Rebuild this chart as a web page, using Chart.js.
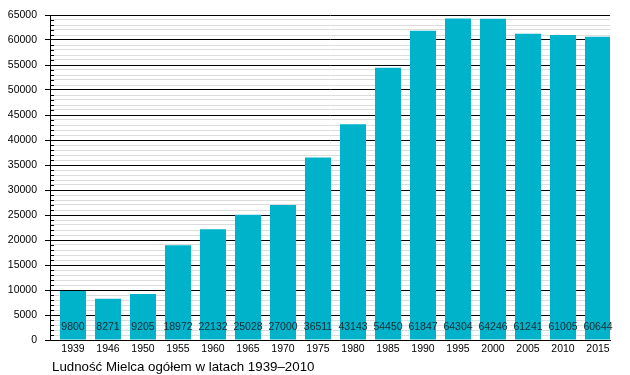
<!DOCTYPE html>
<html><head><meta charset="utf-8">
<script src="https://cdn.jsdelivr.net/npm/chart.js@4"></script>
<style>html,body{margin:0;padding:0;background:#fff}#wrap{width:630px;height:375px}</style>
</head><body><div id="wrap"><canvas id="c" width="630" height="375"></canvas></div>
<script>
const years = ['1939','1946','1950','1955','1960','1965','1970','1975','1980','1985','1990','1995','2000','2005','2010','2015'];
const population = [9800,8271,9205,18972,22132,25028,27000,36511,43143,54450,61847,64304,64246,61241,61005,60644];
const chartTitle = 'Ludność Mielca ogółem w latach 1939–2010';
const yMax = 65000, majorStep = 5000, minorStep = 1000;
const FONT = "'Liberation Sans', Arial, sans-serif";

const extras = {
  id: 'extras',
  afterDraw(chart) {
    const ctx = chart.ctx, y = chart.scales.y, a = chart.chartArea;
    ctx.save();
    ctx.strokeStyle = '#000'; ctx.lineWidth = 1;
    for (let v = 0; v <= yMax; v += minorStep) {
      if (v % majorStep === 0) continue;
      const py = Math.round(y.getPixelForValue(v)) + 0.5;
      ctx.beginPath(); ctx.moveTo(a.left, py); ctx.lineTo(a.left + 4, py); ctx.stroke();
    }
    ctx.fillStyle = '#1a2a33';
    ctx.font = '10.5px ' + FONT;
    ctx.textAlign = 'center'; ctx.textBaseline = 'middle';
    chart.getDatasetMeta(0).data.forEach((bar, i) => {
      ctx.fillText(String(population[i]), bar.x, 327);
    });
    ctx.fillStyle = '#000';
    ctx.font = '13.3px ' + FONT;
    ctx.textAlign = 'left'; ctx.textBaseline = 'middle';
    ctx.fillText(chartTitle, 52, 367);
    ctx.restore();
  }
};

new Chart(document.getElementById('c'), {
  type: 'bar',
  data: { datasets: [{ data: population.map((v, i) => ({ x: i, y: v })), backgroundColor: '#00b3cb', borderWidth: 0, barPercentage: 0.743, categoryPercentage: 1 }] },
  options: {
    responsive: false, animation: false,
    layout: { padding: { top: 15, right: 20, bottom: 0, left: 0 } },
    plugins: { legend: { display: false }, tooltip: { enabled: false }, title: { display: false } },
    scales: {
      x: {
        type: 'linear', min: -0.657, max: 15.343, offset: false,
        grid: { display: false, drawTicks: false },
        border: { color: '#000', width: 1 },
        afterBuildTicks(s) { s.ticks = years.map((_, i) => ({ value: i })); },
        ticks: { autoSkip: false, maxRotation: 0, color: '#000', font: { size: 10.5, family: FONT }, padding: 3,
          callback: v => (years[Math.round(v)] || '') },
        afterFit(s) { s.height = 35; }
      },
      y: {
        min: 0, max: yMax,
        border: { color: '#000', width: 1 },
        grid: {
          color: c => (c.tick && c.tick.value % majorStep === 0) ? '#000' : '#dcdcdc',
          tickColor: c => (c.tick && c.tick.value % majorStep === 0) ? '#000' : 'rgba(0,0,0,0)',
          tickLength: 5, lineWidth: 1
        },
        ticks: {
          stepSize: minorStep, autoSkip: false, color: '#000',
          font: { size: 10.5, family: FONT }, padding: 8,
          callback: v => (v % majorStep === 0) ? String(v) : ''
        },
        afterFit(s) { s.width = 50; }
      }
    }
  },
  plugins: [extras]
});
</script></body></html>
